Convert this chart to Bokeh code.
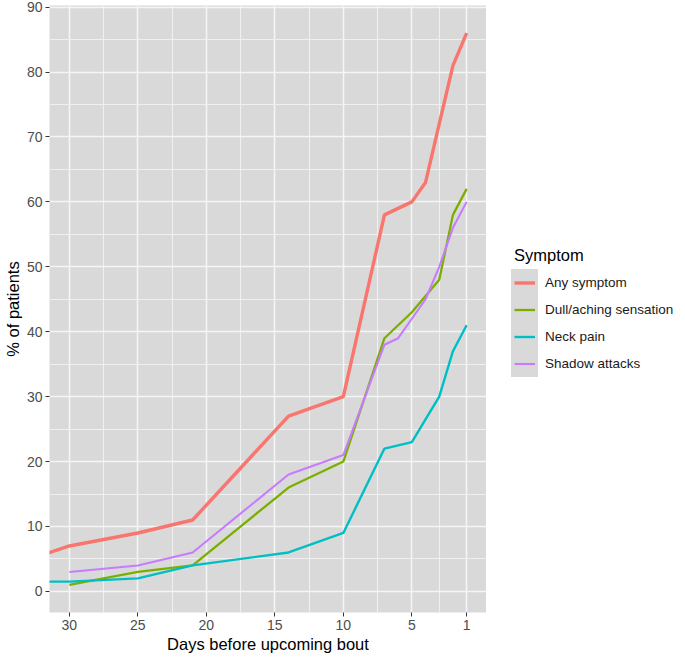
from bokeh.plotting import figure
from bokeh.layouts import row
from bokeh.models import (Range1d, FixedTicker, Legend, LegendItem, ColumnDataSource)
from bokeh.core.properties import value
from bokeh.embed import file_html
from bokeh.resources import INLINE

# ---- data ----
symptoms = ["Any symptom", "Dull/aching sensation", "Neck pain", "Shadow attacks"]
colors = ["#F8766D", "#7CAE00", "#00BFC4", "#C77CFF"]

days_any = [32, 30, 25, 21, 14, 10, 7, 5, 4, 3, 2, 1]
any_symptom = [5.6, 7, 9, 11, 27, 30, 58, 60, 63, 72, 81, 86]

days_dull = [30, 25, 21, 14, 10, 7, 5, 3, 2, 1]
dull_aching = [1, 3, 4, 16, 20, 39, 43, 48, 58, 62]

days_neck = [32, 30, 25, 21, 14, 10, 7, 5, 3, 2, 1]
neck_pain = [1.5, 1.5, 2, 4, 6, 9, 22, 23, 30, 37, 41]

days_shadow = [30, 25, 21, 14, 10, 7, 6, 5, 4, 3, 2, 1]
shadow_attacks = [3, 4, 6, 18, 21, 38, 39, 42, 45, 50, 56, 60]

x_ticks = [30, 25, 20, 15, 10, 5, 1]
x_minor = [27.5, 22.5, 17.5, 12.5, 7.5, 3]
y_ticks = [0, 10, 20, 30, 40, 50, 60, 70, 80, 90]
y_minor = [5, 15, 25, 35, 45, 55, 65, 75, 85]

series = [
    (days_any, any_symptom),
    (days_dull, dull_aching),
    (days_neck, neck_pain),
    (days_shadow, shadow_attacks),
]
widths = [3.4, 2.3, 2.4, 2.1]

FONT = "Liberation Sans"
H = 655

p = figure(width=486, height=H, output_backend="svg", toolbar_location=None,
           x_range=Range1d(31.45, -0.45), y_range=Range1d(-3.25, 90.25),
           min_border_left=45, min_border_right=0, min_border_top=5,
           min_border_bottom=42)

p.background_fill_color = "#D9D9D9"
p.border_fill_color = "white"
p.outline_line_color = None

for ax_ticks, ax_minor, ax in ((x_ticks, x_minor, p.xaxis[0]), (y_ticks, y_minor, p.yaxis[0])):
    ax.ticker = FixedTicker(ticks=ax_ticks, minor_ticks=ax_minor)
    ax.axis_line_color = None
    ax.major_tick_in = 0
    ax.major_tick_out = 4
    ax.major_tick_line_color = "#333333"
    ax.minor_tick_in = 0
    ax.minor_tick_out = 0
    ax.major_label_text_font = FONT
    ax.major_label_text_font_size = "14px"
    ax.major_label_text_color = "#4D4D4D"
    ax.major_label_standoff = 3
    ax.axis_label_text_font = FONT
    ax.axis_label_text_font_size = "16.5px"
    ax.axis_label_text_font_style = "normal"
    ax.axis_label_text_color = "black"
    ax.axis_label_standoff = 2

p.xaxis[0].axis_label = "Days before upcoming bout"
p.yaxis[0].axis_label = "% of patients"

for g in (p.xgrid[0], p.ygrid[0]):
    g.grid_line_color = "#F5F5F5"
    g.grid_line_width = 1.6
    g.minor_grid_line_color = "#F0F0F0"
    g.minor_grid_line_width = 1.1

sources = [ColumnDataSource(dict(x=xs, y=ys)) for xs, ys in series]
for src, c, w in zip(sources, colors, widths):
    p.line("x", "y", source=src, line_color=c, line_width=w)

# ---- legend panel (separate, axis-less figure to the right) ----
# its range lies far away from the data, so its line renderers only feed the legend keys
lf = figure(width=677 - 486, height=H, output_backend="svg", toolbar_location=None,
            x_range=Range1d(1000, 1001), y_range=Range1d(1000, 1001),
            x_axis_location=None, y_axis_location=None,
            min_border=0, min_border_left=0, min_border_right=0,
            min_border_top=0, min_border_bottom=0)
lf.outline_line_color = None
lf.background_fill_color = "white"
lf.border_fill_color = "white"
for g in lf.grid:
    g.visible = False

key_renderers = [lf.line("x", "y", source=src, line_color=c, line_width=w)
                 for src, c, w in zip(sources, colors, widths)]
blank = lf.line("x", "y", source=sources[0], line_alpha=0)

key_box = Legend(items=[LegendItem(label=value(""), renderers=[blank]) for _ in symptoms],
                 location=(25, 235), glyph_width=27, glyph_height=27, spacing=0,
                 padding=0, margin=0, label_standoff=0, label_width=0, label_height=0,
                 background_fill_color="#D9D9D9", background_fill_alpha=1,
                 border_line_color=None, label_text_font_size="1px")
lf.add_layout(key_box, "center")

legend = Legend(items=[LegendItem(label=value(s), renderers=[r]) for s, r in zip(symptoms, key_renderers)],
                location=(28, 235), glyph_width=21, glyph_height=27, spacing=0,
                padding=0, margin=0, label_standoff=10, label_height=27,
                background_fill_alpha=0, border_line_color=None,
                label_text_font=FONT, label_text_font_size="13.5px", label_text_color="#1A1A1A",
                title="Symptom", title_text_font=FONT, title_text_font_size="16.5px",
                title_text_font_style="normal", title_text_color="black", title_standoff=4)
lf.add_layout(legend, "center")

layout = row(p, lf, spacing=0)
open("out.html", "w").write(file_html(layout, INLINE))
